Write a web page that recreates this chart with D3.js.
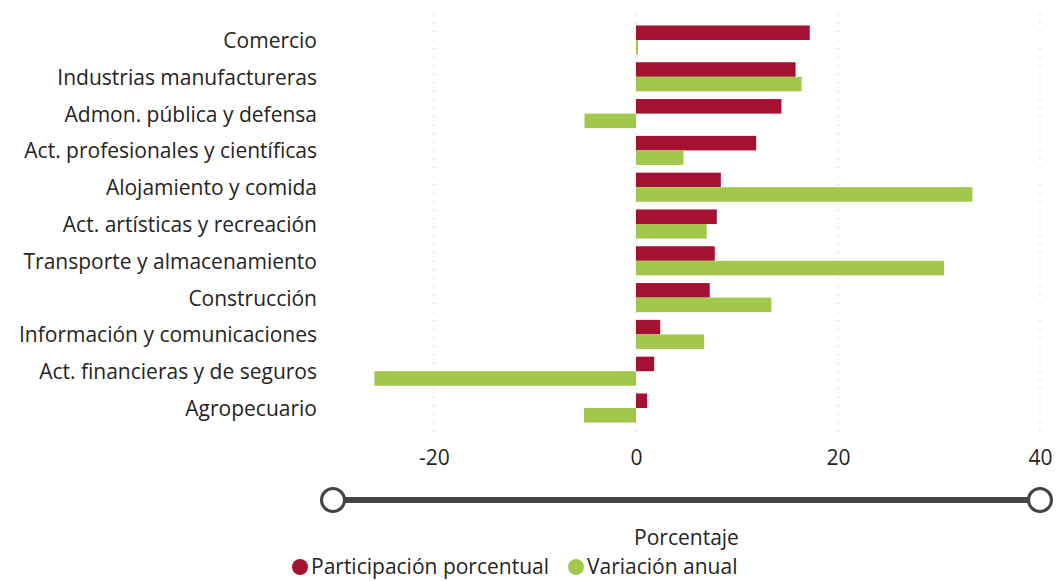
<!DOCTYPE html>
<html><head><meta charset="utf-8">
<script src="https://cdn.jsdelivr.net/npm/d3@7"></script>
<style>body{margin:0;background:#fff;}svg{display:block;font-family:"Open Sans","Noto Sans",sans-serif;}</style>
</head><body>
<svg id="chart" width="1056" height="581"></svg>
<script>
const categories = ["Comercio","Industrias manufactureras","Admon. pública y defensa","Act. profesionales y científicas","Alojamiento y comida","Act. artísticas y recreación","Transporte y almacenamiento","Construcción","Información y comunicaciones","Act. financieras y de seguros","Agropecuario"];
const participacion = [17.2, 15.8, 14.4, 11.9, 8.4, 8.0, 7.8, 7.3, 2.4, 1.8, 1.1];
const variacion = [0.2, 16.4, -5.1, 4.7, 33.3, 7.0, 30.5, 13.4, 6.75, -25.9, -5.15];
const seriesNames = ["Participación porcentual","Variación anual"];
const colors = ["#A51131","#A2C84B"];
const tickValues = [-20, 0, 20, 40];
const xDomain = [-30, 40];

const FS = 21;
const svg = d3.select("#chart");
const x = d3.scaleLinear().domain(xDomain).range([333, 1040]);
const y = d3.scaleBand().domain(categories).range([21.6, 426.4]).paddingInner(0.21).paddingOuter(0.105);
const sub = d3.scaleBand().domain([0,1]).range([0, y.bandwidth()]);

// gridlines
svg.append("g").selectAll("line").data(tickValues).join("line")
  .attr("x1", d => x(d)).attr("x2", d => x(d))
  .attr("y1", 14).attr("y2", 438)
  .attr("stroke", "#c8c8c8").attr("stroke-width", 1.2).attr("stroke-dasharray", "1.2,7.3");

// bars
const rows = categories.map((c,i)=>({c, vals:[participacion[i], variacion[i]]}));
const g = svg.append("g");
rows.forEach(r=>{
  r.vals.forEach((v,k)=>{
    g.append("rect")
      .attr("x", x(Math.min(0,v)))
      .attr("width", Math.abs(x(v)-x(0)))
      .attr("y", y(r.c)+sub(k))
      .attr("height", sub.bandwidth())
      .attr("fill", colors[k]);
  });
});

// category labels
svg.append("g").selectAll("text").data(categories).join("text")
  .attr("x", 317).attr("y", d => y(d)+y.bandwidth()/2)
  .attr("text-anchor","end").attr("dominant-baseline","central")
  .attr("font-size", FS).attr("fill","#252423").text(d=>d);

// x axis tick labels
const xAxis = d3.axisBottom(x).tickValues(tickValues).tickSize(0).tickPadding(0).tickFormat(d => String(d));
const ax = svg.append("g").attr("transform","translate(0,450)").call(xAxis);
ax.select(".domain").remove();
ax.selectAll("text").attr("font-size",FS).attr("fill","#252423").attr("font-family","'Open Sans','Noto Sans',sans-serif").attr("dy","0.71em");

// slider
svg.append("line").attr("x1", x(xDomain[0])).attr("x2", x(xDomain[1]))
  .attr("y1", 500).attr("y2", 500).attr("stroke","#444").attr("stroke-width",6);
svg.selectAll("circle.knob").data(xDomain).join("circle").attr("class","knob")
  .attr("cx", d=>x(d)).attr("cy",500).attr("r",11.5)
  .attr("fill","#fff").attr("stroke","#444").attr("stroke-width",3);

// axis title
svg.append("text").attr("x", (x(xDomain[0])+x(xDomain[1]))/2).attr("y", 537)
  .attr("text-anchor","middle").attr("dominant-baseline","central")
  .attr("font-size",FS).attr("fill","#252423").text("Porcentaje");

// legend
const legX = [300, 576];
seriesNames.forEach((n,k)=>{
  svg.append("circle").attr("cx", legX[k]).attr("cy", 567).attr("r", 8).attr("fill", colors[k]);
  svg.append("text").attr("x", legX[k]+11).attr("y", 566).attr("dominant-baseline","central")
    .attr("font-size",FS).attr("fill","#252423").text(n);
});
</script>
</body></html>
